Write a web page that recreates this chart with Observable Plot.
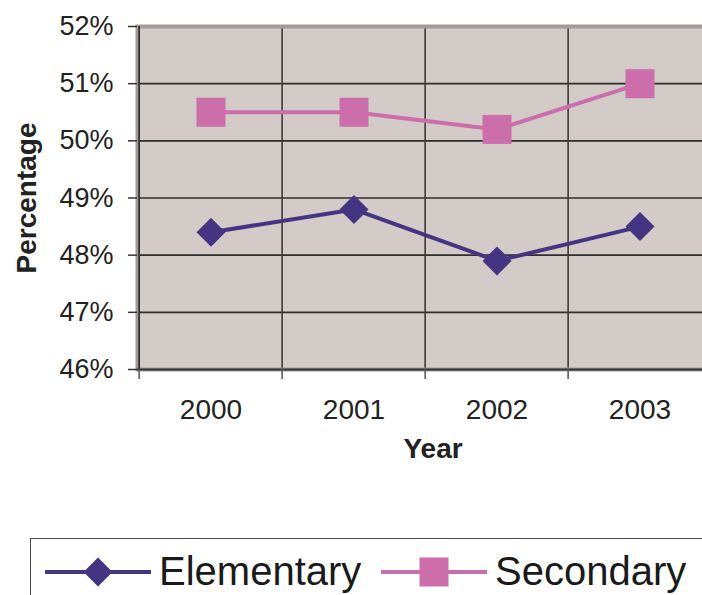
<!DOCTYPE html>
<html>
<head>
<meta charset="utf-8">
<script src="https://cdn.jsdelivr.net/npm/d3@7"></script>
<script src="https://cdn.jsdelivr.net/npm/@observablehq/plot@0.6"></script>
<style>
  html, body { margin: 0; padding: 0; background: #fff; overflow: hidden; width: 702px; height: 595px; }
  #wrap { position: relative; width: 702px; height: 595px; overflow: hidden; font-family: "Liberation Sans", Arial, sans-serif; }
  #chart { position: absolute; left: 0; top: 0; width: 712px; }
  #chart svg { max-width: none !important; display: block; }
  #legend { position: absolute; left: 30px; top: 538px; width: 720px; height: 80px; border: 1.5px solid #4a4a4a; background: #fff; }
</style>
</head>
<body>
<div id="wrap">
  <div id="chart"></div>
  <div id="legend"></div>
</div>
<script>
const years = ["2000", "2001", "2002", "2003"];
const elementary = [48.4, 48.8, 47.9, 48.5];
const secondary = [50.5, 50.5, 50.2, 51.0];
const yTicks = [46, 47, 48, 49, 50, 51, 52];
const seriesNames = ["Elementary", "Secondary"];
const seriesColors = ["#433581", "#cc6eaa"];

const data = [];
years.forEach((y, i) => {
  data.push({year: y, value: elementary[i], series: seriesNames[0]});
  data.push({year: y, value: secondary[i], series: seriesNames[1]});
});

const diamond = {draw(ctx) { const h = 14.5; ctx.moveTo(0, -h); ctx.lineTo(h, 0); ctx.lineTo(0, h); ctx.lineTo(-h, 0); ctx.closePath(); }};
const square = {draw(ctx) { const h = 14.5; ctx.moveTo(-h, -h); ctx.lineTo(h, -h); ctx.lineTo(h, h); ctx.lineTo(-h, h); ctx.closePath(); }};

const W = 712, ML = 137, MR = 0, MT = 26, H = 480, MB = H - 369;
const bw = (W - ML - MR) / years.length;

const plot = Plot.plot({
  width: W, height: H,
  marginLeft: ML, marginRight: MR, marginTop: MT, marginBottom: MB,
  style: {fontFamily: "'Liberation Sans', Arial, sans-serif", color: "#222", background: "transparent", maxWidth: "none"},
  x: {type: "band", domain: years, padding: 0},
  y: {domain: [46, 52]},
  marks: [
    Plot.frame({fill: "#d3cbc8"}),
    Plot.ruleY(yTicks, {stroke: "#2e2e2e", strokeWidth: 1.6}),
    Plot.ruleX(years.slice(1), {x: d => d, dx: -bw / 2, stroke: "#3a3a3a", strokeWidth: 1.6}),
    Plot.frame({stroke: "#a39b97", strokeWidth: 4}),
    Plot.ruleX([years[0]], {x: d => d, dx: -bw / 2, stroke: "#333", strokeWidth: 1.8}),
    Plot.ruleY([46], {stroke: "#333", strokeWidth: 2}),
    Plot.axisY({ticks: yTicks, tickFormat: d => d + "%", tickSize: 9, tickPadding: 15, fontSize: 27, label: null, stroke: "#333", strokeWidth: 1.5}),
    Plot.axisX({ticks: years, tickFormat: () => "", tickSize: 10, dx: -bw / 2, label: null, stroke: "#555", strokeWidth: 1.5}),
    Plot.axisX({ticks: years, tickSize: 0, tickPadding: 30, fontSize: 28, label: null}),
    Plot.line(data, {x: "year", y: "value", z: "series", stroke: d => d.series === seriesNames[0] ? seriesColors[0] : seriesColors[1], strokeWidth: 4}),
    Plot.dot(data.filter(d => d.series === seriesNames[0]), {x: "year", y: "value", symbol: diamond, fill: seriesColors[0], stroke: "none"}),
    Plot.dot(data.filter(d => d.series === seriesNames[1]), {x: "year", y: "value", symbol: square, fill: seriesColors[1], stroke: "none"}),
    Plot.text(["Percentage"], {text: d => d, frameAnchor: "left", textAnchor: "middle", lineAnchor: "middle", dx: -110, rotate: -90, fontSize: 28, fontWeight: "bold", fill: "#222"}),
    Plot.text(["Year"], {text: d => d, frameAnchor: "bottom", textAnchor: "middle", lineAnchor: "middle", dy: 80, dx: 8, fontSize: 28, fontWeight: "bold", fill: "#222"})
  ]
});
document.getElementById("chart").appendChild(plot);

// Legend
const ns = "http://www.w3.org/2000/svg";
const lg = document.createElementNS(ns, "svg");
lg.setAttribute("width", 720); lg.setAttribute("height", 80);
lg.style.fontFamily = "'Liberation Sans', Arial, sans-serif";
const items = [
  {name: seriesNames[0], color: seriesColors[0], x0: 14, shape: "diamond"},
  {name: seriesNames[1], color: seriesColors[1], x0: 350, shape: "square"}
];
const cy = 33;
items.forEach(it => {
  const line = document.createElementNS(ns, "line");
  line.setAttribute("x1", it.x0); line.setAttribute("x2", it.x0 + 106);
  line.setAttribute("y1", cy); line.setAttribute("y2", cy);
  line.setAttribute("stroke", it.color); line.setAttribute("stroke-width", 4);
  lg.appendChild(line);
  const cx = it.x0 + 53;
  const p = document.createElementNS(ns, "path");
  const h = 14.5;
  p.setAttribute("d", it.shape === "diamond"
    ? `M${cx},${cy - h}L${cx + h},${cy}L${cx},${cy + h}L${cx - h},${cy}Z`
    : `M${cx - h},${cy - h}H${cx + h}V${cy + h}H${cx - h}Z`);
  p.setAttribute("fill", it.color);
  lg.appendChild(p);
  const t = document.createElementNS(ns, "text");
  t.setAttribute("x", it.x0 + 114); t.setAttribute("y", cy + 13);
  t.setAttribute("font-size", 40); t.setAttribute("fill", "#1a1a1a");
  t.textContent = it.name;
  lg.appendChild(t);
});
document.getElementById("legend").appendChild(lg);
</script>
</body>
</html>
